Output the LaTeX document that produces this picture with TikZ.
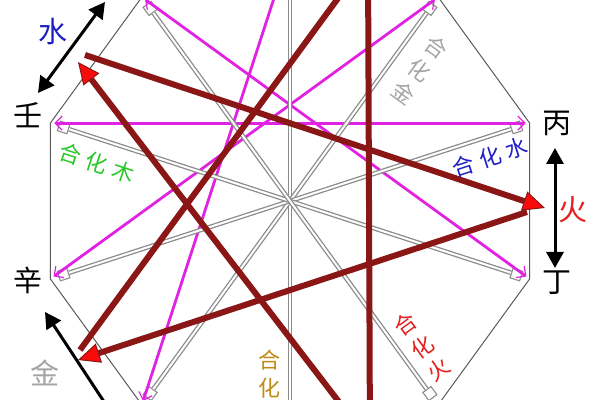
\documentclass[tikz,border=0pt]{standalone}
\usepackage{fontspec}
\newfontfamily\cjk{Noto Sans CJK SC}
\usetikzlibrary{arrows.meta}
\definecolor{chong}{RGB}{226,34,226}
\definecolor{ke}{RGB}{138,22,22}
\definecolor{kered}{RGB}{250,10,10}
\definecolor{mugreen}{RGB}{40,200,40}
\definecolor{shuiblue}{RGB}{30,30,200}
\definecolor{huored}{RGB}{230,30,30}
\definecolor{jingray}{RGB}{165,165,165}
\definecolor{tugold}{RGB}{190,140,20}

\begin{document}
\begin{tikzpicture}[x=0.5pt,y=0.5pt,
  rim/.style={draw=black!65, line width=0.5pt},
  he/.style={draw=gray!90, line width=0.65pt, double=white, double distance=1pt},
  knot/.style={draw=gray!90, fill=white, line width=0.55pt, minimum size=5pt, inner sep=0pt},
  chongline/.style={draw=chong, line width=1.4pt, shorten <=2pt, shorten >=2pt,
    {Straight Barb[length=3.5pt,width=7pt,line width=0.6pt]}-{Straight Barb[length=3.5pt,width=7pt,line width=0.6pt]}},
  keline/.style={draw=ke, line width=3pt, -{Triangle[length=11pt,width=10pt,fill=kered,line width=0.5pt]}},
  season/.style={draw=black, line width=1.5pt, {Triangle[length=8pt,width=8.5pt]}-{Triangle[length=8pt,width=8.5pt]}},
  stem/.style={font=\cjk\fontsize{14.5}{16}\selectfont},
  element/.style={font=\cjk\fontsize{14.5}{16}\selectfont},
  hehua/.style={font=\cjk\fontsize{11}{14}\selectfont, align=center, inner sep=0pt}]
  \useasboundingbox (-290,-199) rectangle (310,201);
  \clip (-290,-199) rectangle (310,201);

  \foreach \n/\a in {jia/90,yi/54,bing/18,ding/-18,wu/-54,ji/-90,geng/-126,xin/-162,ren/162,gui/126}{
    \coordinate (v-\n) at (\a:252);
    \node[knot, rotate=\a] (\n) at (\a:238) {};
  }
  \draw[rim] (v-jia) -- (v-yi) -- (v-bing) -- (v-ding) -- (v-wu) -- (v-ji)
    -- (v-geng) -- (v-xin) -- (v-ren) -- (v-gui) -- cycle;

  \path (v-jia) edge[chongline] (v-geng)
        (v-yi) edge[chongline] (v-xin)
        (v-bing) edge[chongline] (v-ren)
        (v-ding) edge[chongline] (v-gui);

  \path (jia) edge[he] (ji)
        (yi) edge[he] (geng)
        (bing) edge[he] (xin)
        (ding) edge[he] (ren)
        (wu) edge[he] (gui);

  \coordinate (shui-in) at (-212,139);
  \coordinate (shui-out) at (-205,146);
  \coordinate (huo-in) at (255,-7);
  \coordinate (huo-out) at (237,-11);
  \coordinate (jin-in) at (-212,-159);
  \coordinate (jin-out) at (-210,-149);
  \coordinate (mu-in) at (79,245);
  \coordinate (mu-out) at (78,245);
  \coordinate (tu-in) at (80,-244);
  \coordinate (tu-out) at (82,-244);
  \draw[keline] (shui-out) -- (huo-in);
  \draw[keline] (huo-out) -- (jin-in);
  \draw[keline] (jin-out) -- (mu-in);
  \draw[keline] (mu-out) -- (tu-in);
  \draw[keline] (tu-out) -- (shui-in);

  \coordinate (shui-a) at (-252,108);
  \coordinate (shui-b) at (-185,199);
  \coordinate (huo-a) at (265,53);
  \coordinate (huo-b) at (265,-67);
  \coordinate (jin-a) at (-245,-111);
  \coordinate (jin-b) at (-170,-225);
  \draw[season] (shui-a) -- (shui-b);
  \draw[season] (huo-a) -- (huo-b);
  \draw[season] (jin-a) -- (jin-b);

  \node[stem] (l-ren) at (-262,86) {壬};
  \node[stem] (l-xin) at (-262,-79) {辛};
  \node[stem] (l-bing) at (267,78) {丙};
  \node[stem] (l-ding) at (267,-82) {丁};

  \node[element, text=shuiblue] (e-shui) at (-237,169) {水};
  \node[element, text=huored] (e-huo) at (283,-9) {火};
  \node[element, text=jingray] (e-jin) at (-245,-172) {金};

  \node[hehua, text=mugreen, rotate=-18] (h-mu) at (-193,38) {合\hspace{3pt}化\hspace{3pt}木};
  \node[hehua, text=shuiblue, rotate=18] (h-shui) at (200,44) {合\hspace{3pt}化\hspace{3pt}水};
  \node[hehua, text=jingray, rotate=-36] (h-jin) at (130,131) {合\\化\\金};
  \node[hehua, text=huored, rotate=36] (h-huo) at (132,-146) {合\\化\\火};
  \node[hehua, text=tugold] (h-tu) at (-20,-187) {合\\化\\土};
\end{tikzpicture}
\end{document}
